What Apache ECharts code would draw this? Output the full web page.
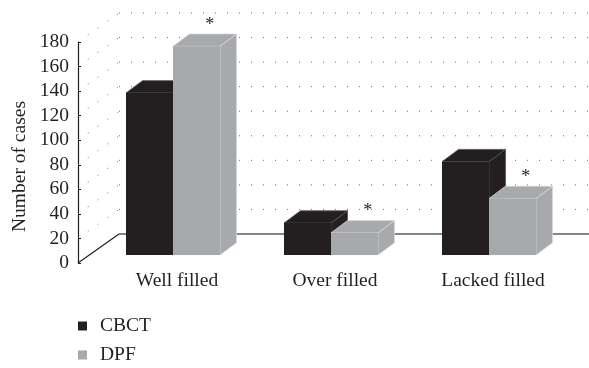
<!DOCTYPE html>
<html>
<head>
<meta charset="utf-8">
<script src="https://cdn.jsdelivr.net/npm/echarts@6/dist/echarts.min.js"></script>
<style>
  html, body { margin: 0; padding: 0; background: #ffffff; }
  #chart { width: 589px; height: 368px; }
</style>
</head>
<body>
<div id="chart"></div>
<script>
// Filling quality per method
const categories = ['Well filled', 'Over filled', 'Lacked filled'];
const seriesNames = ['CBCT', 'DPF'];
const cbctValues = [132, 26, 76];
const dpfValues = [170, 18, 46];
const significance = ['*', '*', '*'];   // marks drawn above the DPF bars
const yMin = 0, yMax = 180, yStep = 20;
const yTicks = [0, 20, 40, 60, 80, 100, 120, 140, 160, 180];

// Pseudo-3D geometry (pixels)
const FONT = '"Liberation Serif", "DejaVu Serif", serif';
const TEXT = '#231f20';
const AXIS_OFFSET = 20;           // front axis sits left of the grid box
const WALL_DX = 41, WALL_DY = -29; // depth of the walls/floor
const PLANE_DX = 11, PLANE_DY = -8; // bars stand this far into the floor
const BAR_DX = 16.5, BAR_DY = -12.3; // depth of each bar
const BAR_W = 47;
const BAR_LEFT = [-62, -15];       // front-left of each bar, from band centre
const COLORS = ['#231f20', '#a7a9ac'];
const EDGES = ['#55514f', '#d6d7d9'];

function renderWalls(params, api) {
  const v = api.value(1);
  const cs = params.coordSys;
  const fx = cs.x - AXIS_OFFSET;
  const fy = api.coord([0, v])[1];
  const bx = fx + WALL_DX, by = fy + WALL_DY;
  const right = api.getWidth();
  const floor = v === yMin;
  return {
    type: 'group',
    children: [
      { type: 'line', shape: { x1: fx, y1: fy, x2: bx, y2: by },
        style: { stroke: floor ? '#231f20' : '#6d6e71', lineWidth: floor ? 1.2 : 1,
                 lineDash: floor ? null : [1, 11] } },
      { type: 'line', shape: { x1: bx, y1: by, x2: right, y2: by },
        style: { stroke: floor ? '#5b5c5e' : '#6d6e71', lineWidth: floor ? 1.6 : 1,
                 lineDash: floor ? null : [1, 11] } }
    ]
  };
}

function makeBarRenderer(s) {
  return function (params, api) {
    const idx = api.value(0);
    const val = api.value(1);
    const base = api.coord([idx, 0]);
    const top = api.coord([idx, val]);
    const x0 = base[0] + BAR_LEFT[s] + PLANE_DX;
    const yb = base[1] + PLANE_DY;
    const yt = top[1] + PLANE_DY;
    const x1 = x0 + BAR_W;
    const fill = COLORS[s], edge = EDGES[s];
    const children = [
      { type: 'polygon',
        shape: { points: [[x1, yt], [x1 + BAR_DX, yt + BAR_DY], [x1 + BAR_DX, yb + BAR_DY], [x1, yb]] },
        style: { fill: fill, stroke: edge, lineWidth: 0.8 } },
      { type: 'polygon',
        shape: { points: [[x0, yt], [x1, yt], [x1 + BAR_DX, yt + BAR_DY], [x0 + BAR_DX, yt + BAR_DY]] },
        style: { fill: fill, stroke: edge, lineWidth: 0.8 } },
      { type: 'rect', shape: { x: x0, y: yt, width: BAR_W, height: yb - yt },
        style: { fill: fill } }
    ];
    if (s === 1) {
      children.push({
        type: 'text',
        style: {
          text: significance[idx],
          x: (x0 + x1 + BAR_DX) / 2 + 5, y: yt + BAR_DY - 9,
          textAlign: 'center', textVerticalAlign: 'middle',
          font: '18px ' + FONT, fill: TEXT
        }
      });
    }
    return { type: 'group', children: children };
  };
}

const legendText = { fontFamily: FONT, fontSize: 19.5, color: TEXT, padding: [0, 0, 0, 8] };

const chart = echarts.init(document.getElementById('chart'), null, { renderer: 'canvas' });
chart.setOption({
  backgroundColor: '#ffffff',
  animation: false,
  textStyle: { fontFamily: FONT, color: TEXT },
  grid: { left: 98, top: 42, width: 474, height: 221, outerBoundsMode: 'none', containLabel: false },
  legend: [
    { data: [seriesNames[0]], left: 78, top: 316, icon: 'rect', itemWidth: 9, itemHeight: 9,
      padding: 0, textStyle: legendText },
    { data: [seriesNames[1]], left: 78, top: 345, icon: 'rect', itemWidth: 9, itemHeight: 9,
      padding: 0, textStyle: legendText }
  ],
  xAxis: {
    type: 'category',
    data: categories,
    axisLine: { show: false },
    axisTick: { show: false },
    axisLabel: { margin: 8, fontFamily: FONT, fontSize: 19.5, color: TEXT, interval: 0 }
  },
  yAxis: {
    type: 'value',
    min: yMin, max: yMax, interval: yStep,
    offset: AXIS_OFFSET,
    name: 'Number of cases',
    nameLocation: 'middle',
    nameGap: 48,
    nameMoveOverlap: false,
    nameTextStyle: { fontFamily: FONT, fontSize: 19.5, color: TEXT, padding: [0, 28, 0, 0] },
    axisLine: { show: true, lineStyle: { color: TEXT, width: 1.2 } },
    axisTick: { show: true, inside: true, length: 3, lineStyle: { color: TEXT } },
    axisLabel: { margin: 9, fontFamily: FONT, fontSize: 19.5, color: TEXT },
    splitLine: { show: false }
  },
  series: [
    { type: 'custom', name: 'walls', silent: true, z: 1,
      data: yTicks.map(v => [0, v]), renderItem: renderWalls },
    { type: 'custom', name: seriesNames[0], z: 2, itemStyle: { color: COLORS[0] },
      data: cbctValues.map((v, i) => [i, v]), renderItem: makeBarRenderer(0) },
    { type: 'custom', name: seriesNames[1], z: 3, itemStyle: { color: COLORS[1] },
      data: dpfValues.map((v, i) => [i, v]), renderItem: makeBarRenderer(1) }
  ]
});
</script>
</body>
</html>
